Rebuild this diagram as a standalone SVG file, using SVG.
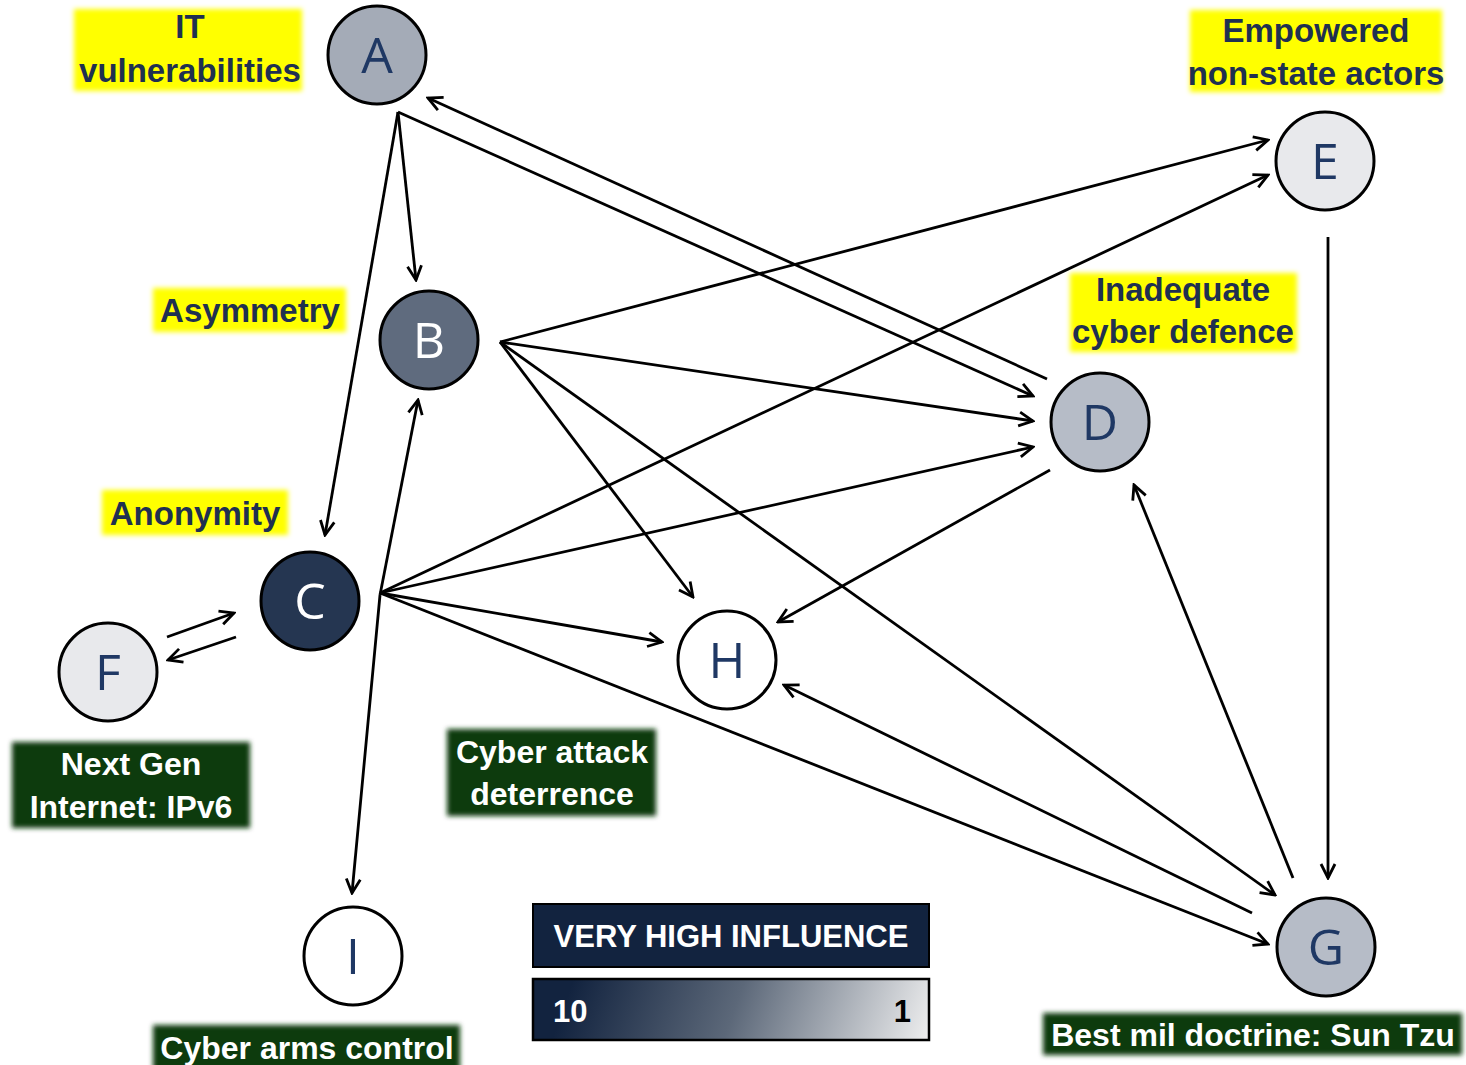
<svg xmlns="http://www.w3.org/2000/svg" width="1466" height="1065" viewBox="0 0 1466 1065">
<defs>
<style>
.node{stroke:#000;stroke-width:3}
.nl{font-family:"Open Sans","Liberation Sans",sans-serif;font-size:50px;text-anchor:middle;fill:#1f3864}
.nlw{fill:#ffffff}
.yl{font-family:"Liberation Sans",Arial,sans-serif;font-weight:bold;font-size:33px;text-anchor:middle;fill:#1f3050}
.gl{font-family:"Liberation Sans",Arial,sans-serif;font-weight:bold;font-size:32px;text-anchor:middle;fill:#ffffff}
.ybox{fill:#ffff00;filter:url(#soft)}
.gbox{fill:#0b3a0b;filter:url(#soft)}
.edge{stroke:#000;stroke-width:2.8;fill:none;marker-end:url(#ah)}
</style>
<filter id="soft" x="-10%" y="-20%" width="120%" height="140%">
<feGaussianBlur stdDeviation="2.5"/>
</filter>
<marker id="ah" viewBox="0 0 18 18" refX="16" refY="9" markerWidth="18" markerHeight="18" markerUnits="userSpaceOnUse" orient="auto">
<path d="M2,2 L16,9 L2,16" fill="none" stroke="#000" stroke-width="2.8" stroke-linejoin="miter"/>
</marker>
<linearGradient id="grad" gradientUnits="userSpaceOnUse" x1="580" y1="960" x2="920" y2="1080">
<stop offset="0" stop-color="#12233f"/>
<stop offset="0.45" stop-color="#5c6879"/>
<stop offset="1" stop-color="#f2f2f2"/>
</linearGradient>
</defs>
<rect x="0" y="0" width="1466" height="1065" fill="#ffffff"/>

<g id="labels">
<g id="label-A"><rect class="ybox" x="74" y="9" width="228" height="82"/><text class="yl" x="190" y="38">IT</text><text class="yl" x="190" y="82">vulnerabilities</text></g>
<g id="label-E"><rect class="ybox" x="1190" y="10" width="252" height="82"/><text class="yl" x="1316" y="42">Empowered</text><text class="yl" x="1316" y="85">non-state actors</text></g>
<g id="label-B"><rect class="ybox" x="153" y="288" width="193" height="44"/><text class="yl" x="250" y="322">Asymmetry</text></g>
<g id="label-D"><rect class="ybox" x="1070" y="273" width="227" height="79"/><text class="yl" x="1183" y="301">Inadequate</text><text class="yl" x="1183" y="343">cyber defence</text></g>
<g id="label-C"><rect class="ybox" x="102" y="490" width="186" height="45"/><text class="yl" x="195" y="525">Anonymity</text></g>
<g id="label-F"><rect class="gbox" x="12" y="742" width="238" height="86"/><text class="gl" x="131" y="775">Next Gen</text><text class="gl" x="131" y="818">Internet: IPv6</text></g>
<g id="label-H"><rect class="gbox" x="447" y="729" width="209" height="87"/><text class="gl" x="552" y="763">Cyber attack</text><text class="gl" x="552" y="805">deterrence</text></g>
<g id="label-I"><rect class="gbox" x="153" y="1025" width="307" height="45"/><text class="gl" x="307" y="1059">Cyber arms control</text></g>
<g id="label-G"><rect class="gbox" x="1043" y="1013" width="419" height="42"/><text class="gl" x="1253" y="1046">Best mil doctrine: Sun Tzu</text></g>
</g>

<g id="connectors">
<line class="edge" x1="398" y1="112" x2="416" y2="280"/>
<line class="edge" x1="398" y1="112" x2="325" y2="535"/>
<line class="edge" x1="398" y1="112" x2="1033" y2="396"/>
<line class="edge" x1="1047" y1="379" x2="428" y2="98"/>
<line class="edge" x1="500" y1="342" x2="1268" y2="140"/>
<line class="edge" x1="500" y1="342" x2="1033" y2="421"/>
<line class="edge" x1="500" y1="342" x2="693" y2="597"/>
<line class="edge" x1="500" y1="342" x2="1275" y2="895"/>
<line class="edge" x1="380" y1="593" x2="1268" y2="175"/>
<line class="edge" x1="380" y1="593" x2="1033" y2="447"/>
<line class="edge" x1="380" y1="593" x2="662" y2="642"/>
<line class="edge" x1="380" y1="593" x2="1268" y2="944"/>
<line class="edge" x1="380" y1="595" x2="418" y2="400"/>
<line class="edge" x1="380" y1="595" x2="352" y2="893"/>
<line class="edge" x1="167" y1="637" x2="234" y2="613"/>
<line class="edge" x1="236" y1="637" x2="168" y2="660"/>
<line class="edge" x1="1050" y1="470" x2="778" y2="622"/>
<line class="edge" x1="1252" y1="913" x2="784" y2="685"/>
<line class="edge" x1="1293" y1="878" x2="1134" y2="485"/>
<line class="edge" x1="1328" y1="237" x2="1328" y2="878"/>
</g>

<g id="node-A"><circle class="node" cx="377" cy="55" r="49" fill="#a4abb7"/><text class="nl" x="377" y="73">A</text></g>
<g id="node-B"><circle class="node" cx="429" cy="340" r="49" fill="#5f6b7e"/><text class="nl nlw" x="429" y="358">B</text></g>
<g id="node-C"><circle class="node" cx="310" cy="601" r="49" fill="#253651"/><text class="nl nlw" x="310" y="619">C</text></g>
<g id="node-D"><circle class="node" cx="1100" cy="422" r="49" fill="#b6bcc7"/><text class="nl" x="1100" y="440">D</text></g>
<g id="node-E"><circle class="node" cx="1325" cy="161" r="49" fill="#e8e9ec"/><text class="nl" x="1325" y="179">E</text></g>
<g id="node-F"><circle class="node" cx="108" cy="672" r="49" fill="#e8e9ec"/><text class="nl" x="108" y="690">F</text></g>
<g id="node-G"><circle class="node" cx="1326" cy="947" r="49" fill="#b6bcc7"/><text class="nl" x="1326" y="965">G</text></g>
<g id="node-H"><circle class="node" cx="727" cy="660" r="49" fill="#ffffff"/><text class="nl" x="727" y="678">H</text></g>
<g id="node-I"><circle class="node" cx="353" cy="956" r="49" fill="#ffffff"/><text class="nl" x="353" y="974">I</text></g>

<g id="legend">
<rect x="533" y="904" width="396" height="63" fill="#12233f" stroke="#000" stroke-width="2"/>
<text class="gl" x="731" y="947" style="font-size:31px">VERY HIGH INFLUENCE</text>
<rect x="533" y="979" width="396" height="61" fill="url(#grad)" stroke="#000" stroke-width="2.5"/>
<text x="553" y="1022" style="font-family:'Liberation Sans',Arial,sans-serif;font-weight:bold;font-size:31px;fill:#ffffff">10</text>
<text x="911" y="1022" style="font-family:'Liberation Sans',Arial,sans-serif;font-weight:bold;font-size:31px;fill:#000000;text-anchor:end">1</text>
</g>
</svg>
